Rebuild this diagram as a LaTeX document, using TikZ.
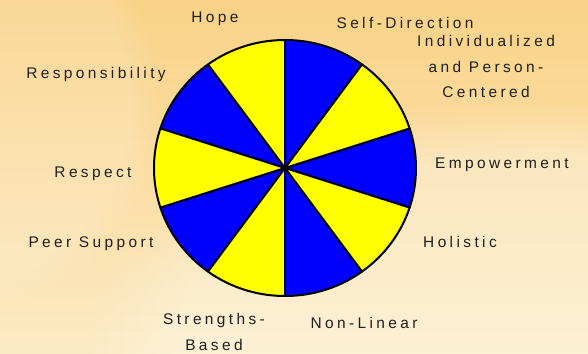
\documentclass[tikz,border=0pt]{standalone}
\usepackage{fontspec}
\setmainfont{Liberation Sans}
\usepackage{tikz}
\usetikzlibrary{fadings}

\definecolor{bgtop}{HTML}{F9D286}
\definecolor{bgbot}{HTML}{FCEAC3}
\definecolor{slblue}{HTML}{0000FF}
\definecolor{slyellow}{HTML}{FFFF00}

\begin{document}
\begin{tikzpicture}[x=1bp, y=1bp, every node/.style={font=\fontsize{15.5}{26}\selectfont\addfontfeature{LetterSpace=22}, text=black!88, inner sep=0pt}]
  \useasboundingbox (0,0) rectangle (588,353);
  \shade[top color=bgtop, bottom color=bgbot] (0,0) rectangle (588,353);
  \fill[white, opacity=0.3, path fading=circle with fuzzy edge 20 percent] (540,-10) ellipse[x radius=460, y radius=260];
  \fill[white, opacity=0.15, path fading=circle with fuzzy edge 20 percent] (0,250) ellipse[x radius=160, y radius=200];
  \fill[slblue] (285,185) -- +(90:131 and 128) arc[start angle=90, end angle=54, x radius=131, y radius=128] -- cycle;
  \fill[slyellow] (285,185) -- +(54:131 and 128) arc[start angle=54, end angle=18, x radius=131, y radius=128] -- cycle;
  \fill[slblue] (285,185) -- +(18:131 and 128) arc[start angle=18, end angle=-18, x radius=131, y radius=128] -- cycle;
  \fill[slyellow] (285,185) -- +(-18:131 and 128) arc[start angle=-18, end angle=-54, x radius=131, y radius=128] -- cycle;
  \fill[slblue] (285,185) -- +(-54:131 and 128) arc[start angle=-54, end angle=-90, x radius=131, y radius=128] -- cycle;
  \fill[slyellow] (285,185) -- +(-90:131 and 128) arc[start angle=-90, end angle=-126, x radius=131, y radius=128] -- cycle;
  \fill[slblue] (285,185) -- +(-126:131 and 128) arc[start angle=-126, end angle=-162, x radius=131, y radius=128] -- cycle;
  \fill[slyellow] (285,185) -- +(-162:131 and 128) arc[start angle=-162, end angle=-198, x radius=131, y radius=128] -- cycle;
  \fill[slblue] (285,185) -- +(162:131 and 128) arc[start angle=162, end angle=126, x radius=131, y radius=128] -- cycle;
  \fill[slyellow] (285,185) -- +(126:131 and 128) arc[start angle=126, end angle=90, x radius=131, y radius=128] -- cycle;
  \draw[line width=2bp] (285,185) -- +(90:131 and 128);
  \draw[line width=2bp] (285,185) -- +(54:131 and 128);
  \draw[line width=2bp] (285,185) -- +(18:131 and 128);
  \draw[line width=2bp] (285,185) -- +(-18:131 and 128);
  \draw[line width=2bp] (285,185) -- +(-54:131 and 128);
  \draw[line width=2bp] (285,185) -- +(-90:131 and 128);
  \draw[line width=2bp] (285,185) -- +(-126:131 and 128);
  \draw[line width=2bp] (285,185) -- +(-162:131 and 128);
  \draw[line width=2bp] (285,185) -- +(162:131 and 128);
  \draw[line width=2bp] (285,185) -- +(126:131 and 128);
  \draw[line width=2bp] (285,185) ellipse[x radius=131, y radius=128];
  \node[anchor=base] (hope) at (215,330.8) {Hope};
  \node[anchor=base] (selfdir) at (405,324.8) {Self-Direction};
  \node[anchor=north, align=center] (indiv) at (486,318.2) {Individualized\\and Person-\\Centered};
  \node[anchor=base] (empower) at (502,184.8) {Empowerment};
  \node[anchor=base] (holistic) at (460,105.8) {Holistic};
  \node[anchor=base] (nonlin) at (364,24.8) {Non-Linear};
  \node[anchor=north, align=center] (strength) at (214,40.2) {Strengths-\\Based};
  \node[anchor=base] (peer) at (91,105.8) {Peer Support};
  \node[anchor=base] (respect) at (93,175.8) {Respect};
  \node[anchor=base] (resp) at (96,274.8) {Responsibility};
\end{tikzpicture}
\end{document}
